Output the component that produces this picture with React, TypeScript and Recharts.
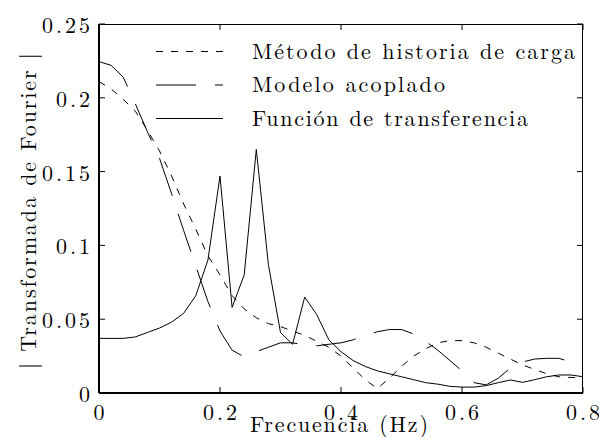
import React from 'react';
import { LineChart, Line, XAxis, YAxis, Legend } from 'recharts';

const freq = [
  0, 0.02, 0.04, 0.06, 0.08, 0.1, 0.12, 0.14, 0.16, 0.18,
  0.2, 0.22, 0.24, 0.26, 0.28, 0.3, 0.32, 0.34, 0.36, 0.38,
  0.4, 0.42, 0.44, 0.46, 0.48, 0.5, 0.52, 0.54, 0.56, 0.58,
  0.6, 0.62, 0.64, 0.66, 0.68, 0.7, 0.72, 0.74, 0.76, 0.78, 0.8,
];

const metodo = [
  0.211, 0.206, 0.199, 0.191, 0.178, 0.164, 0.147, 0.128, 0.111, 0.093,
  0.08, 0.066, 0.057, 0.051, 0.047, 0.045, 0.042, 0.039, 0.035, 0.031,
  0.025, 0.017, 0.009, 0.003, 0.01, 0.018, 0.025, 0.03, 0.034, 0.0355,
  0.0355, 0.034, 0.031, 0.027, 0.023, 0.019, 0.016, 0.013, 0.011, 0.0105, 0.0105,
];

const modelo = [
  0.2245, 0.222, 0.214, 0.196, 0.177, 0.159, 0.135, 0.11, 0.086, 0.062,
  0.042, 0.029, 0.0245, 0.028, 0.031, 0.034, 0.034, 0.0325, 0.032, 0.033,
  0.034, 0.036, 0.039, 0.0415, 0.043, 0.043, 0.04, 0.035, 0.029, 0.022,
  0.015, 0.007, 0.0055, 0.01, 0.017, 0.021, 0.023, 0.0235, 0.0235, 0.021, 0.018,
];

const funcion = [
  0.037, 0.037, 0.037, 0.038, 0.041, 0.044, 0.048, 0.054, 0.066, 0.09,
  0.147, 0.058, 0.08, 0.165, 0.087, 0.041, 0.033, 0.065, 0.053, 0.036,
  0.028, 0.022, 0.018, 0.015, 0.013, 0.011, 0.009, 0.007, 0.006, 0.0045,
  0.004, 0.004, 0.005, 0.007, 0.0088, 0.0072, 0.009, 0.011, 0.0122, 0.0122, 0.011,
];

const xTicks = [0, 0.2, 0.4, 0.6, 0.8];
const yTicks = [0, 0.05, 0.1, 0.15, 0.2, 0.25];
const seriesNames = ['Método de historia de carga', 'Modelo acoplado', 'Función de transferencia'];
const seriesKeys = ['metodo', 'modelo', 'funcion'];
const xLabel = 'Frecuencia (Hz)';
const yLabel = '| Transformada de Fourier |';

const data = freq.map((f, i) => ({ f, metodo: metodo[i], modelo: modelo[i], funcion: funcion[i] }));

const FONT = "'Latin Modern Roman', 'Liberation Serif', serif";
const dashes = ['7 8', '40 19', undefined];
const legendTextLen = [323, 193, 276];

// plot frame (matches chart margins + axis sizes below)
const PLOT = { left: 99, top: 24, right: 583, bottom: 393 };
const X_MAX = 0.8;
const Y_MAX = 0.25;
const fx = (v: number) => PLOT.left + (v / X_MAX) * (PLOT.right - PLOT.left);
const fy = (v: number) => PLOT.bottom - (v / Y_MAX) * (PLOT.bottom - PLOT.top);

const XTick = (props: any) => {
  const { x, y, payload } = props;
  return (
    <text x={x + 1.5} y={y + 27} textAnchor="middle" fontSize={22} fill="#000" letterSpacing={3}>
      {String(payload.value)}
    </text>
  );
};

const YTick = (props: any) => {
  const { x, y, payload } = props;
  return (
    <text x={x - 6} y={y + 9} textAnchor="end" fontSize={22} fill="#000" letterSpacing={3}>
      {String(payload.value)}
    </text>
  );
};

const renderLegend = () => {
  const rows = [51.5, 85, 118.5];
  return (
    <svg width={599} height={437} style={{ position: 'absolute', left: 0, top: 0 }}>
      <line x1={PLOT.left} x2={PLOT.right} y1={PLOT.top + 0.5} y2={PLOT.top + 0.5} stroke="#000" strokeWidth={1} />
      <line x1={PLOT.right - 0.5} x2={PLOT.right - 0.5} y1={PLOT.top} y2={PLOT.bottom} stroke="#000" strokeWidth={1} />
      {xTicks.map((v) => (
        <line key={'tx' + v} x1={fx(v)} x2={fx(v)} y1={PLOT.top} y2={PLOT.top + 6} stroke="#000" strokeWidth={1} />
      ))}
      {yTicks.map((v) => (
        <line key={'ty' + v} x1={PLOT.right} x2={PLOT.right - 6} y1={fy(v)} y2={fy(v)} stroke="#000" strokeWidth={1} />
      ))}
      {seriesNames.map((name, i) => (
        <g key={name}>
          <line x1={156} x2={223} y1={rows[i]} y2={rows[i]} stroke="#000" strokeWidth={1} strokeDasharray={dashes[i]} />
          <text x={252} y={rows[i] + 7} fontSize={22} fill="#000" textLength={legendTextLen[i]} lengthAdjust="spacing">
            {name}
          </text>
        </g>
      ))}
      <text x={339} y={432} textAnchor="middle" fontSize={22} fill="#000" textLength={178} lengthAdjust="spacing">
        {xLabel}
      </text>
      <text
        x={36}
        y={211}
        transform="rotate(-90 36 211)"
        textAnchor="middle"
        fontSize={22}
        fill="#000"
        textLength={316}
        lengthAdjust="spacing"
      >
        {yLabel}
      </text>
    </svg>
  );
};

export default function App() {
  return (
    <div style={{ position: 'absolute', left: 0, top: 0, width: 599, height: 437, background: '#fff', fontFamily: FONT }}>
      <LineChart width={599} height={437} data={data} margin={{ top: 24, right: 16, bottom: 14, left: 39 }}>
        <XAxis
          dataKey="f"
          type="number"
          domain={[0, X_MAX]}
          ticks={xTicks}
          interval={0}
          height={30}
          axisLine={{ stroke: '#000', strokeWidth: 2 }}
          tickLine={{ stroke: '#000', strokeWidth: 1 }}
          tickSize={-6}
          tickMargin={6}
          tick={XTick}
        />
        <YAxis
          type="number"
          domain={[0, Y_MAX]}
          ticks={yTicks}
          interval={0}
          width={60}
          axisLine={{ stroke: '#000', strokeWidth: 2 }}
          tickLine={{ stroke: '#000', strokeWidth: 1 }}
          tickSize={-6}
          tickMargin={6}
          tick={YTick}
        />
        {seriesKeys.map((k, i) => (
          <Line
            key={k}
            dataKey={k}
            name={seriesNames[i]}
            type="linear"
            stroke="#000"
            strokeWidth={1}
            strokeDasharray={dashes[i]}
            dot={false}
            activeDot={false}
            isAnimationActive={false}
          />
        ))}
        <Legend
          layout="vertical"
          align="center"
          verticalAlign="middle"
          content={renderLegend}
          wrapperStyle={{ left: 0, top: 0, width: 599, height: 437, pointerEvents: 'none' }}
        />
      </LineChart>
    </div>
  );
}
